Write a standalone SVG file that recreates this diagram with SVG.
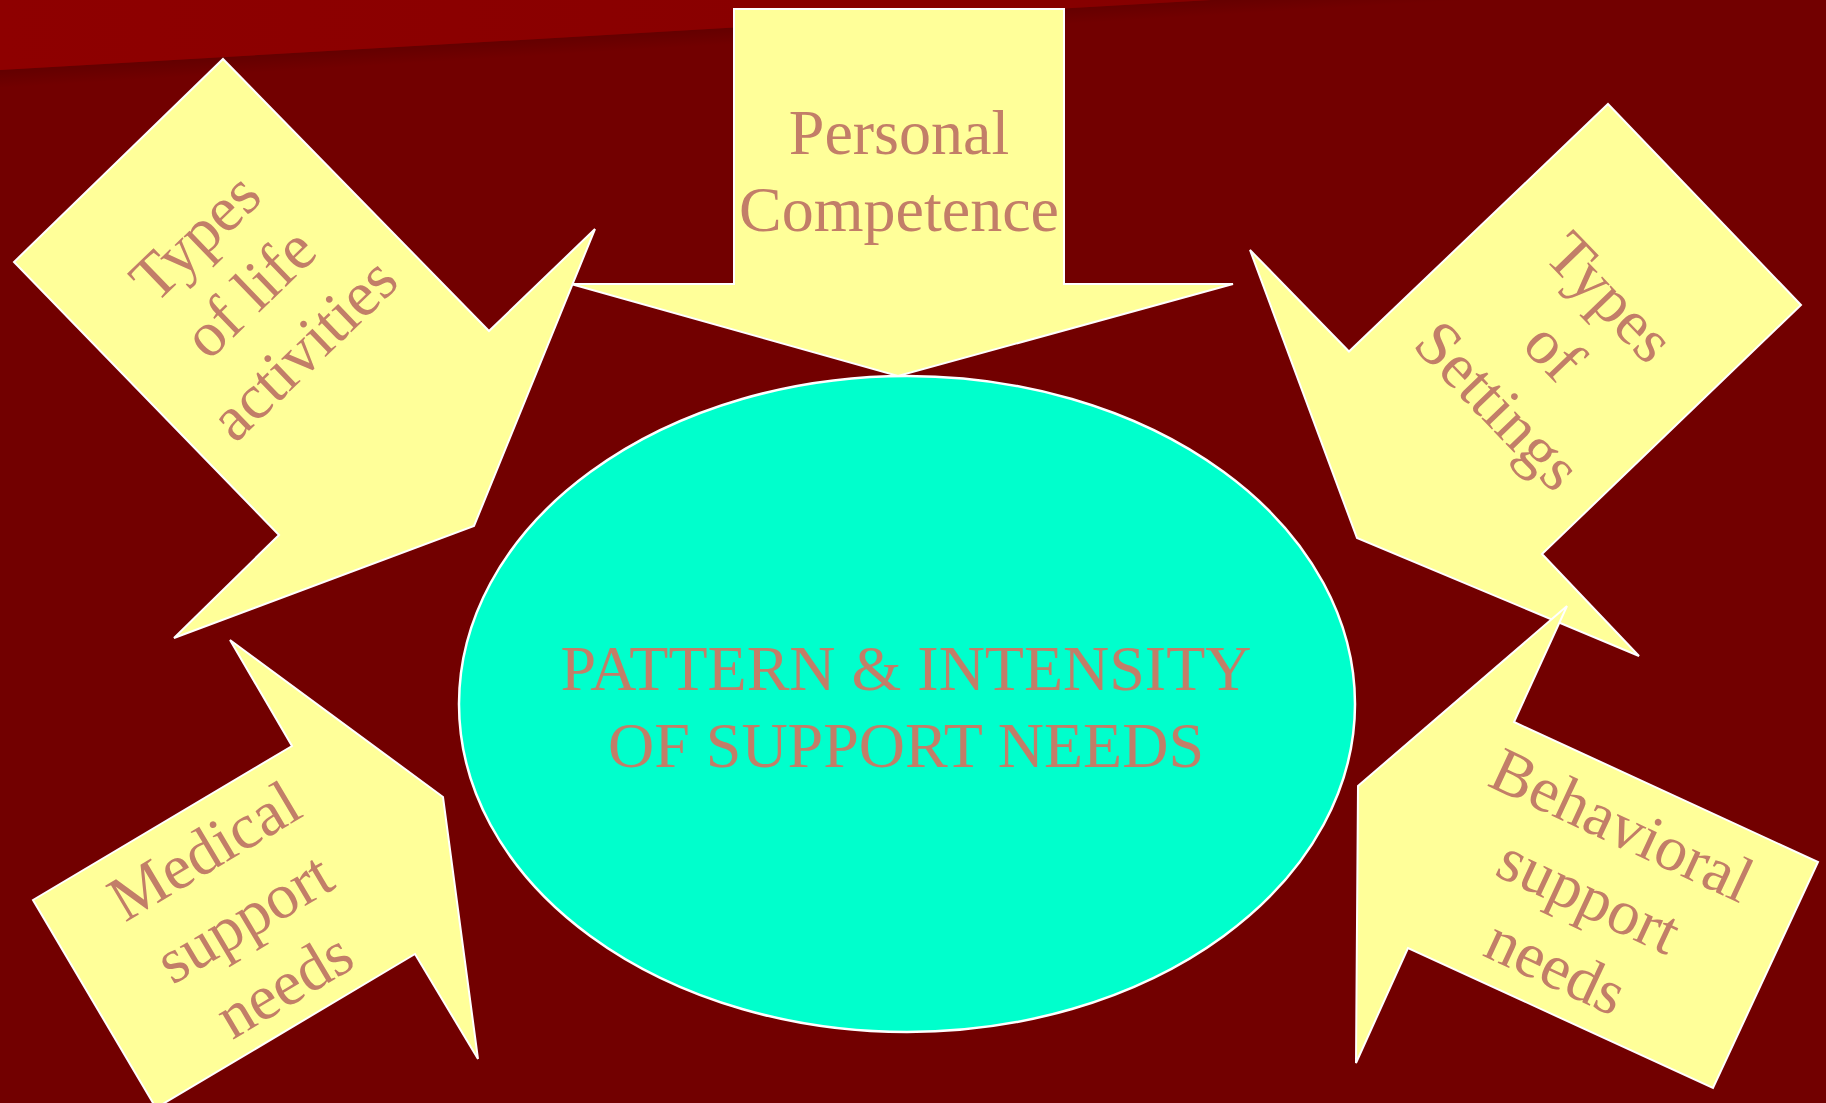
<svg xmlns="http://www.w3.org/2000/svg" width="1826" height="1103" viewBox="0 0 1826 1103">
  <defs>
    <linearGradient id="edgeShade" gradientUnits="userSpaceOnUse" x1="600" y1="35.3" x2="601" y2="52">
      <stop offset="0" stop-color="#640000"/>
      <stop offset="1" stop-color="#720000"/>
    </linearGradient>
    <linearGradient id="bandFill" x1="0" y1="0" x2="1" y2="0">
      <stop offset="0" stop-color="#8E0000"/>
      <stop offset="1" stop-color="#860000"/>
    </linearGradient>
  </defs>
  <style>
    .arrow { fill: #FFFF99; stroke: #FFFFFF; stroke-width: 2; stroke-linejoin: miter; }
    .hub { fill: #00FFCC; stroke: #FFFFFF; stroke-width: 2.5; }
    .label { font-family: "Liberation Serif", "Times New Roman", serif; font-size: 64px; fill: #C27E68; text-anchor: middle; }
  </style>

  <!-- background with slanted band in the top-left -->
  <rect x="0" y="0" width="1826" height="1103" fill="#720000"/>
  <polygon points="0,70 1211,0 1600,0 0,95" fill="url(#edgeShade)"/>
  <polygon points="0,0 1211,0 0,70" fill="url(#bandFill)"/>

  <!-- central ellipse -->
  <g id="support-needs">
    <ellipse class="hub" cx="907" cy="704" rx="448" ry="328"/>
    <text class="label" x="906" y="690">PATTERN &amp; INTENSITY</text>
    <text class="label" x="906" y="767">OF SUPPORT NEEDS</text>
  </g>

  <!-- arrows pointing in toward the ellipse -->
  <g id="personal-competence">
    <polygon class="arrow" points="734,9 1064,9 1064,284 1233,284 898,376 571,284 734,284"/>
    <text class="label" x="899" y="154">Personal</text>
    <text class="label" x="899" y="231">Competence</text>
  </g>

  <g id="life-activities">
    <polygon class="arrow" points="223,59 489,331 595,229 474,526 174,638 279,535 14,262"/>
    <g transform="translate(264,308) rotate(-44)">
      <text class="label" x="0" y="-78">Types</text>
      <text class="label" x="0" y="0">of life</text>
      <text class="label" x="0" y="78">activities</text>
    </g>
  </g>

  <g id="settings">
    <polygon class="arrow" points="1608,104 1801,305 1542,554 1639,656 1357,538 1250,250 1349,351.5"/>
    <g transform="translate(1539,366) rotate(46)">
      <text class="label" x="0" y="-78">Types</text>
      <text class="label" x="0" y="0">of</text>
      <text class="label" x="0" y="78">Settings</text>
    </g>
  </g>

  <g id="medical-support">
    <polygon class="arrow" points="230,640 292,746 33,900 156,1108 415,954 478,1059 443,797"/>
    <g transform="translate(255,936) rotate(-30.8)">
      <text class="label" x="0" y="-78">Medical</text>
      <text class="label" x="0" y="0">support</text>
      <text class="label" x="0" y="78">needs</text>
    </g>
  </g>

  <g id="behavioral-support">
    <polygon class="arrow" points="1567,606 1358,786 1356,1063 1408,948 1713,1088 1818,862 1514,722"/>
    <g transform="translate(1580,915) rotate(25)">
      <text class="label" x="0" y="-78">Behavioral</text>
      <text class="label" x="0" y="0">support</text>
      <text class="label" x="0" y="78">needs</text>
    </g>
  </g>

  <g id="connectors"/>
</svg>
